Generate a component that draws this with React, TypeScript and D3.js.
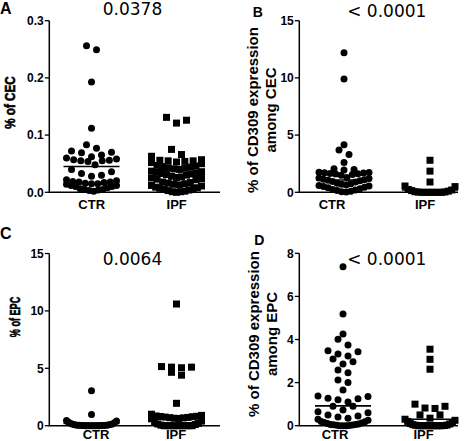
import React from "react";
import * as d3 from "d3";

// ---------- data ----------
const categories = ["CTR", "IPF"];
const panelLetters = ["A", "B", "C", "D"];
const pValues = ["0.0378", "< 0.0001", "0.0064", "< 0.0001"];

const yTicksA = [0, 0.1, 0.2, 0.3];
const yTicksB = [0, 5, 10, 15];
const yTicksC = [0, 5, 10, 15];
const yTicksD = [0, 2, 4, 6, 8];

const yTitlesA = ["% of CEC"];
const yTitlesB = ["% of CD309 expression", "among CEC"];
const yTitlesC = ["% of EPC"];
const yTitlesD = ["% of CD309 expression", "among EPC"];

// Panel A: % of CEC
const cecCTR = [
  0.256, 0.249, 0.193, 0.112, 0.083, 0.077, 0.072, 0.070, 0.069, 0.065, 0.062,
  0.060, 0.058, 0.057, 0.056, 0.055, 0.055, 0.054, 0.048, 0.040, 0.036, 0.033,
  0.030, 0.028, 0.022, 0.020, 0.019, 0.018, 0.018, 0.017, 0.016, 0.015, 0.015,
  0.014, 0.012, 0.012, 0.010, 0.010, 0.008, 0.006, 0.005, 0.005, 0.004, 0.003,
  0.002,
];
const cecIPF = [
  0.131, 0.126, 0.121, 0.075, 0.066, 0.063, 0.057, 0.056, 0.055, 0.055, 0.054,
  0.053, 0.052, 0.050, 0.047, 0.046, 0.045, 0.044, 0.043, 0.042, 0.041, 0.040,
  0.037, 0.036, 0.035, 0.034, 0.033, 0.032, 0.031, 0.030, 0.028, 0.027, 0.026,
  0.025, 0.024, 0.023, 0.022, 0.018, 0.017, 0.016, 0.015, 0.014, 0.013, 0.012,
  0.011, 0.009, 0.008, 0.007, 0.006, 0.005, 0.004, 0.003, 0.002, 0.001, 0.001,
  0.0,
];

// Panel B: % of CD309 expression among CEC
const cd309CecCTR = [
  12.2, 9.9, 4.15, 3.7, 3.3, 2.6, 2.05, 2.0, 1.95, 1.75, 1.72, 1.7, 1.68, 1.65,
  1.62, 1.6, 1.55, 1.5, 1.3, 1.25, 1.2, 1.15, 1.1, 1.05, 1.0, 0.95, 0.9, 0.8,
  0.75, 0.7, 0.65, 0.6, 0.55, 0.5, 0.45, 0.4, 0.3, 0.25, 0.2, 0.15, 0.1, 0.05,
  0.02,
];
const cd309CecIPF = [
  2.8, 1.85, 0.9, 0.55, 0.5, 0.25, 0.2, 0.15, 0.1, 0.05, 0.03, 0.02, 0.0, 0.0,
  0.0, 0.0, 0.0, 0.0, 0.0,
];

// Panel C: % of EPC
const epcCTR = [
  3.05, 0.98, 0.45, 0.4, 0.3, 0.25, 0.2, 0.15, 0.12, 0.1, 0.08, 0.06, 0.05,
  0.04, 0.03, 0.02, 0.02, 0.01, 0.01, 0.0, 0.0, 0.0, 0.0, 0.0, 0.0, 0.0, 0.0,
];
const epcIPF = [
  10.6, 5.15, 5.1, 5.1, 5.05, 4.65, 4.4, 1.95, 1.0, 0.9, 0.85, 0.82, 0.8, 0.78,
  0.75, 0.72, 0.7, 0.68, 0.65, 0.62, 0.6, 0.4, 0.3, 0.2, 0.15, 0.1, 0.05, 0.0,
  0.0, 0.0, 0.0, 0.0, 0.0, 0.0, 0.0, 0.0, 0.0,
];

// Panel D: % of CD309 expression among EPC
const cd309EpcCTR = [
  7.38, 5.18, 4.25, 4.01, 3.74, 3.48, 3.43, 3.33, 3.23, 3.1, 2.97, 2.86, 2.58,
  2.46, 2.12, 2.0, 1.66, 1.38, 1.35, 1.27, 1.25, 1.2, 1.1, 0.9, 0.9, 0.73,
  0.65, 0.6, 0.5, 0.45, 0.4, 0.35, 0.3, 0.25, 0.2, 0.18, 0.15, 0.12, 0.1, 0.08,
  0.06, 0.05, 0.04, 0.03, 0.02, 0.01, 0.0, 0.0, 0.0,
];
const cd309EpcIPF = [
  3.55, 3.08, 2.62, 1.0, 0.9, 0.82, 0.8, 0.5, 0.5, 0.35, 0.3, 0.25, 0.2, 0.15,
  0.1, 0.08, 0.05, 0.03, 0.02, 0.01, 0.0, 0.0, 0.0, 0.0, 0.0, 0.0, 0.0, 0.0,
  0.0, 0.0,
];

// Central lines
const centerA = [0.045, 0.028];
const centerB = [1.08, 0.2];
const centerC = [0.2, 0.87];
const centerD = [0.92, 0.3];

// ---------- layout ----------
const FONT = "'Liberation Sans', Arial, sans-serif";
const TITLE_FONT = "'DejaVu Sans', sans-serif";

type Panel = {
  series: number[][];
  centers: number[];
  ticks: number[];
  tickFmt: (v: number) => string;
  yTitles: string[];
  letter: string;
  pValue: string;
  x0: number;
  x1: number;
  yBottom: number;
  yTop: number;
  yMax: number;
  cx: [number, number];
  labelX: [number, number];
  labelY: number;
  titleX: number;
  titleY: number;
  letterX: number;
  letterY: number;
  letterSize: number;
  yTitleX: number[];
  yTitleY: number;
  yTitleScale: number;
  yTitleSize: number;
};

const panels: Panel[] = [
  {
    series: [cecCTR, cecIPF],
    centers: centerA,
    ticks: yTicksA,
    tickFmt: d3.format(".1f"),
    yTitles: yTitlesA,
    letter: panelLetters[0],
    pValue: pValues[0],
    x0: 49.3, x1: 220, yBottom: 192.3, yTop: 20.7, yMax: 0.3,
    cx: [91.5, 176.5], labelX: [91.7, 176.7], labelY: 209,
    titleX: 132.5, titleY: 15,
    letterX: 0, letterY: 13.5, letterSize: 16,
    yTitleX: [15], yTitleY: 102.5, yTitleScale: 0.78, yTitleSize: 15,
  },
  {
    series: [cd309CecCTR, cd309CecIPF],
    centers: centerB,
    ticks: yTicksB,
    tickFmt: d3.format("d"),
    yTitles: yTitlesB,
    letter: panelLetters[1],
    pValue: pValues[1],
    x0: 299.3, x1: 458, yBottom: 192.3, yTop: 20.7, yMax: 15,
    cx: [344, 430], labelX: [332, 425], labelY: 209,
    titleX: 386.8, titleY: 16.5,
    letterX: 252.7, letterY: 16.7, letterSize: 14,
    yTitleX: [257.5, 275.5], yTitleY: 110, yTitleScale: 1, yTitleSize: 15,
  },
  {
    series: [epcCTR, epcIPF],
    centers: centerC,
    ticks: yTicksC,
    tickFmt: d3.format("d"),
    yTitles: yTitlesC,
    letter: panelLetters[2],
    pValue: pValues[2],
    x0: 49.3, x1: 220, yBottom: 425.7, yTop: 253.5, yMax: 15,
    cx: [91.5, 176.5], labelX: [96, 176], labelY: 438.5,
    titleX: 132.5, titleY: 265,
    letterX: 0, letterY: 239, letterSize: 16,
    yTitleX: [20], yTitleY: 317, yTitleScale: 0.65, yTitleSize: 14,
  },
  {
    series: [cd309EpcCTR, cd309EpcIPF],
    centers: centerD,
    ticks: yTicksD,
    tickFmt: d3.format("d"),
    yTitles: yTitlesD,
    letter: panelLetters[3],
    pValue: pValues[3],
    x0: 299.3, x1: 458, yBottom: 425.7, yTop: 253.3, yMax: 8,
    cx: [343, 430], labelX: [335, 423.5], labelY: 438.5,
    titleX: 386.8, titleY: 265,
    letterX: 254.3, letterY: 245, letterSize: 14,
    yTitleX: [259, 277], yTitleY: 334, yTitleScale: 1, yTitleSize: 15,
  },
];

const MARK = 7; // marker size (px)
const ROW_H = 7; // row grouping height (px)
const GAP = 10; // natural spacing between points in a row
const MAX_SPREAD = 50; // max spread of centres in a row

// Prism-like scatter layout: group into rows, smallest value in centre, outward alternating.
function layoutRow(values: number[], y: d3.ScaleLinear<number, number>, cx: number) {
  const sorted = [...values].sort((a, b) => a - b);
  const rows: { y0: number; items: number[] }[] = [];
  let cur: { y0: number; items: number[] } | null = null;
  for (const v of sorted) {
    const py = y(v);
    if (!cur || cur.y0 - py >= ROW_H) {
      cur = { y0: py, items: [] };
      rows.push(cur);
    }
    cur.items.push(v);
  }
  const pts: { x: number; y: number }[] = [];
  for (const row of rows) {
    const k = row.items.length;
    const s = k > 1 ? Math.min(GAP, MAX_SPREAD / (k - 1)) : 0;
    const slots = d3
      .range(k)
      .map((j) => (j - (k - 1) / 2) * s)
      .sort((a, b) => Math.abs(a) - Math.abs(b) || b - a);
    row.items.forEach((v, i) => pts.push({ x: cx + slots[i], y: y(v) }));
  }
  return pts;
}

function PanelView({ p }: { p: Panel }) {
  const y = d3.scaleLinear().domain([0, p.yMax]).range([p.yBottom, p.yTop]);
  const x = d3.scalePoint<string>().domain(categories).range(p.cx).padding(0);
  const lx = d3.scalePoint<string>().domain(categories).range(p.labelX).padding(0);
  const condensed = p.yTitleScale < 1;
  return (
    <g>
      <text x={p.letterX} y={p.letterY} fontFamily={FONT} fontWeight="bold" fontSize={p.letterSize}>
        {p.letter}
      </text>
      <text x={p.titleX} y={p.titleY} fontFamily={TITLE_FONT} fontSize={17} textAnchor="middle">
        {p.pValue}
      </text>
      {p.yTitles.map((t, i) => (
        <text
          key={i}
          transform={`translate(${p.yTitleX[i]},${p.yTitleY}) rotate(-90) scale(${p.yTitleScale},1)`}
          textAnchor="middle"
          fontFamily={FONT}
          fontWeight="bold"
          fontSize={p.yTitleSize}
          stroke={condensed ? "#000" : "none"}
          strokeWidth={condensed ? 0.6 : 0}
        >
          {t}
        </text>
      ))}
      <line x1={p.x0} x2={p.x0} y1={y(p.yMax)} y2={y(0)} stroke="#000" strokeWidth={1.5} />
      <line x1={p.x0 - 0.75} x2={p.x1} y1={y(0)} y2={y(0)} stroke="#000" strokeWidth={1.5} />
      {p.ticks.map((t) => (
        <g key={t}>
          <line x1={p.x0 - 4.5} x2={p.x0} y1={y(t)} y2={y(t)} stroke="#000" strokeWidth={1.3} />
          <text
            x={p.x0 - 5.5}
            y={y(t)}
            dy="0.35em"
            textAnchor="end"
            fontFamily={FONT}
            fontWeight="bold"
            fontSize={12}
          >
            {p.tickFmt(t)}
          </text>
        </g>
      ))}
      {categories.map((c) => (
        <text
          key={c}
          x={lx(c)}
          y={p.labelY}
          textAnchor="middle"
          fontFamily={FONT}
          fontWeight="bold"
          fontSize={13}
        >
          {c}
        </text>
      ))}
      {p.series.map((vals, si) => {
        const cx = x(categories[si]) as number;
        const pts = layoutRow(vals, y, cx);
        return (
          <g key={si}>
            {pts.map((pt, i) =>
              si === 0 ? (
                <circle key={i} cx={pt.x} cy={pt.y} r={MARK / 2} fill="#000" />
              ) : (
                <rect
                  key={i}
                  x={pt.x - MARK / 2}
                  y={pt.y - MARK / 2}
                  width={MARK}
                  height={MARK}
                  fill="#000"
                />
              )
            )}
            <line
              x1={cx - 28}
              x2={cx + 28}
              y1={y(p.centers[si])}
              y2={y(p.centers[si])}
              stroke="#000"
              strokeWidth={1.6}
            />
          </g>
        );
      })}
    </g>
  );
}

export default function App() {
  return (
    <svg
      width={473}
      height={441}
      style={{ position: "absolute", left: 0, top: 0, background: "#fff" }}
    >
      <rect width={473} height={441} fill="#fff" />
      {panels.map((p, i) => (
        <PanelView key={i} p={p} />
      ))}
    </svg>
  );
}
